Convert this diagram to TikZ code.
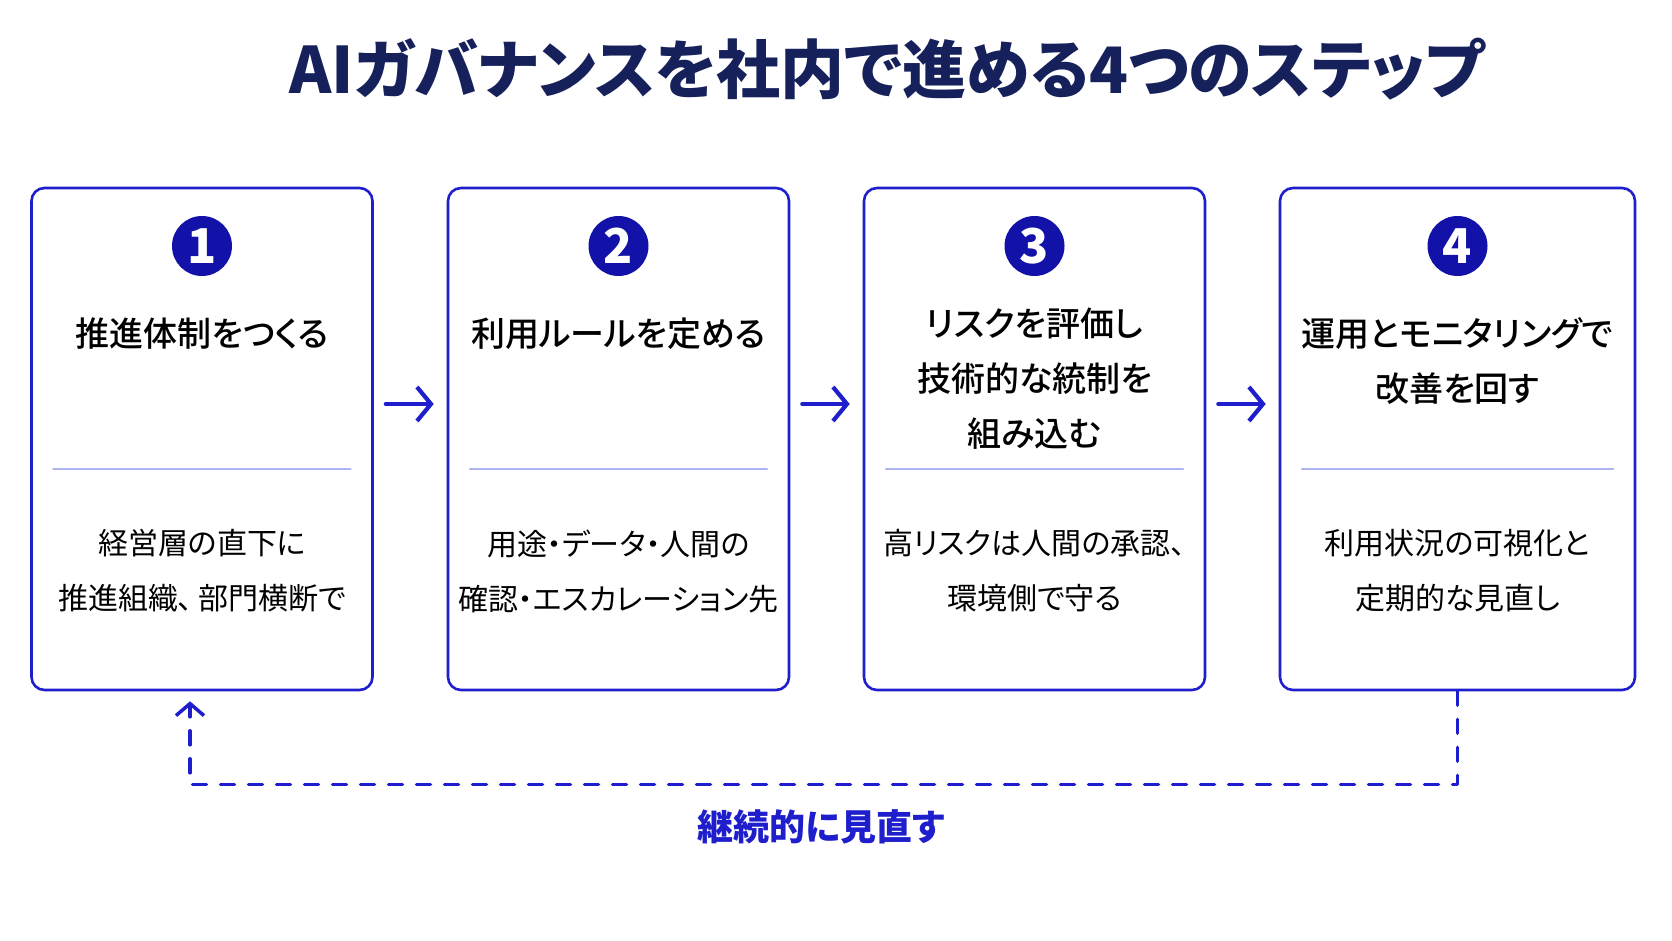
\documentclass[tikz,border=0pt]{standalone}
\usepackage{fontspec}
\setmainfont{Noto Sans CJK JP}[RawFeature=+palt]
\newfontfamily\medfont{Noto Sans CJK JP Medium}[RawFeature=+palt]
\usetikzlibrary{arrows.meta,positioning}
\definecolor{titlenavy}{HTML}{16205A}
\definecolor{stepblue}{HTML}{1E1ECC}
\definecolor{badgeblue}{HTML}{1212A8}
\definecolor{rulelav}{HTML}{AEB4F2}
\begin{document}
\begin{tikzpicture}[
		x=1pt,y=-1pt,
		line cap=round,
		line join=round,
		card/.style={draw=stepblue,line width=2.6pt,rounded corners=13pt,fill=white,minimum height=502pt},
		badge/.style={circle,fill=badgeblue,text=white,minimum size=60pt,inner sep=0pt,font=\fontsize{48}{48}\selectfont\bfseries},
		heading/.style={align=center,font=\fontsize{34}{55}\selectfont\medfont},
		body/.style={align=center,font=\fontsize{30}{55}\selectfont},
		flow/.style={draw=stepblue,line width=4.2pt,-{Straight Barb[length=14pt,width=34pt]},shorten <=12pt,shorten >=13pt},
		loopback/.style={draw=stepblue,line width=3.5pt,dash pattern=on 14pt off 14pt,-{Straight Barb[length=12pt,width=28pt]},shorten >=10pt}
		]
		\useasboundingbox[fill=white] (0,0) rectangle (1672,941);
		\node[text=titlenavy,font=\fontsize{64}{64}\selectfont\bfseries] (title) at (887,69) {AIガバナンスを社内で進める4つのステップ};
		\node[card,minimum width=341pt] (box1) at (202,439) {};
		\node[card,minimum width=341pt] (box2) at (618.5,439) {};
		\node[card,minimum width=341pt] (box3) at (1034.5,439) {};
		\node[card,minimum width=355pt] (box4) at (1457.5,439) {};
		\foreach \i/\x in {1/202,2/618.5,3/1034.5,4/1457.5}{
			\node[badge] (num\i) at (\x,246) {\i};
			\draw[rulelav,line width=1.5pt] ([xshift=23pt,yshift=-30pt]box\i.west) -- ([xshift=-23pt,yshift=-30pt]box\i.east);
		}
		\node[heading] (head1) at (202,334) {推進体制をつくる};
		\node[heading] (head2) at (618.5,334) {利用ルールを定める};
		\node[heading] (head3) at (1034.5,379) {リスクを評価し\\技術的な統制を\\組み込む};
		\node[heading] (head4) at (1457.5,361) {運用とモニタリングで\\改善を回す};
		\node[body] (note1) at (202,571) {経営層の直下に\\推進組織、\,部門横断で};
		\node[body] (note2) at (618.5,571) {用途・データ・人間の\\確認・エスカレーション先};
		\node[body] (note3) at (1034.5,571) {高リスクは人間の承認、\\環境側で守る};
		\node[body] (note4) at (1457.5,571) {利用状況の可視化と\\定期的な見直し};
		\draw[flow] ([yshift=35pt]box1.east) -- ([yshift=35pt]box2.west);
		\draw[flow] ([yshift=35pt]box2.east) -- ([yshift=35pt]box3.west);
		\draw[flow] ([yshift=35pt]box3.east) -- ([yshift=35pt]box4.west);
		\draw[loopback] (box4.south) -- ++(0,93) -| ([xshift=-12pt]box1.south);
		\node[text=stepblue,font=\fontsize{36}{36}\selectfont\bfseries] (again) at (821,827) {継続的に見直す};
		\end{tikzpicture}
\end{document}
